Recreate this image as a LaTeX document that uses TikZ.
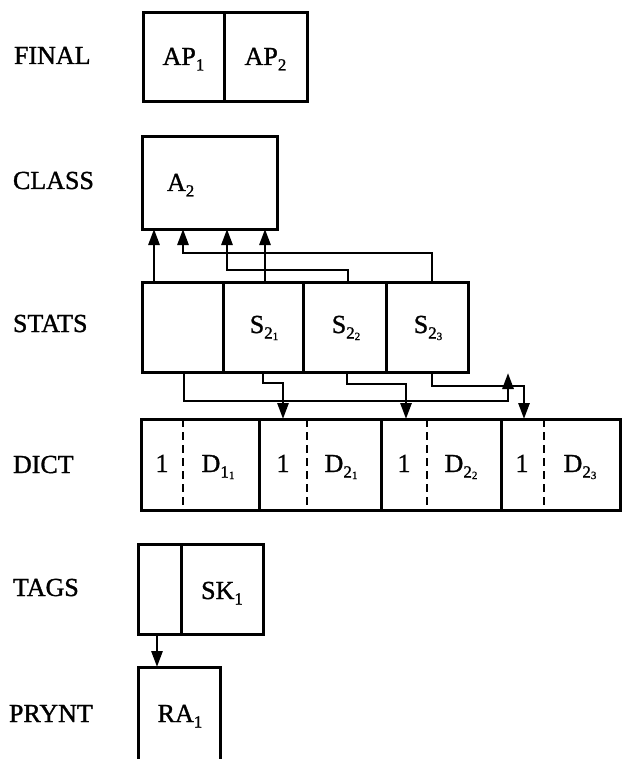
\documentclass[tikz,border=0pt]{standalone}
\usepackage{fontspec}
\setmainfont{Liberation Serif}
\newfontfamily\printface{Liberation Serif}[FakeBold=1.2]
\usetikzlibrary{arrows.meta,fit,calc}

% subscripts set in the text face: one level and a nested second level
\newcommand\sbs[1]{\raisebox{-5.5pt}{\fontsize{17}{17}\selectfont #1}}
\newcommand\sbss[1]{\raisebox{-1.5pt}{\fontsize{11}{11}\selectfont #1}}

\tikzset{
  txt/.style={inner sep=0pt, outer sep=0pt, font=\printface\fontsize{26}{31}\selectfont},
  rowlabel/.style={txt, anchor=base west},
  celltext/.style={txt, anchor=base},
  cell/.style={draw, line width=3pt, rectangle, inner sep=0pt, outer sep=0pt},
  link/.style={line width=2.8pt, line join=miter},
  ptr/.style={link, -{Triangle[length=16pt,width=11pt]}},
  divider/.style={line width=2.8pt, dash pattern=on 8pt off 5pt},
}

\begin{document}
\begin{tikzpicture}[x=1pt,y=-1pt]
\useasboundingbox (0,0) rectangle (622,759);
\clip (0,0) rectangle (622,759);

% row names
\node[rowlabel] (lfinal) at (14,64)  {FINAL};
\node[rowlabel] (lclass) at (13,189) {CLASS};
\node[rowlabel] (lstats) at (13,332) {STATS};
\node[rowlabel] (ldict)  at (13,473) {DICT};
\node[rowlabel] (ltags)  at (13,596) {TAGS};
\node[rowlabel] (lprynt) at (9,722) {PRYNT};

% FINAL
\node[cell, fit={(143,13) (224,102)}] (ap1) {};
\node[cell, fit={(224,13) (307,102)}] (ap2) {};
\node[celltext] (tap1) at (183.5,65) {AP\sbs{1}};
\node[celltext] (tap2) at (265.5,65) {AP\sbs{2}};

% CLASS
\node[cell, fit={(142,137) (277,229)}] (class) {};
\node[txt, anchor=base west] (ta2) at (167,191) {A\sbs{2}};

% STATS
\node[cell, fit={(142,282) (223,372)}] (s0) {};
\node[cell, fit={(223,282) (303,372)}] (s1) {};
\node[cell, fit={(303,282) (386,372)}] (s2) {};
\node[cell, fit={(386,282) (468,372)}] (s3) {};
\node[celltext] (ts1) at (264,333) {S\sbs{2\sbss{1}}};
\node[celltext] (ts2) at (346,333) {S\sbs{2\sbss{2}}};
\node[celltext] (ts3) at (428,333) {S\sbs{2\sbss{3}}};

% DICT
\node[cell, fit={(141,419) (259,510)}] (d1) {};
\node[cell, fit={(259,419) (381,510)}] (d2) {};
\node[cell, fit={(381,419) (501,510)}] (d3) {};
\node[cell, fit={(501,419) (620,510)}] (d4) {};
\draw[divider] ($(d1.north west)+(42,0)$) -- ($(d1.south west)+(42,0)$);
\draw[divider] ($(d2.north west)+(48,0)$) -- ($(d2.south west)+(48,0)$);
\draw[divider] ($(d3.north west)+(46,0)$) -- ($(d3.south west)+(46,0)$);
\draw[divider] ($(d4.north west)+(43,0)$) -- ($(d4.south west)+(43,0)$);
\node[celltext] (n1) at (162,472) {1};
\node[celltext] (n2) at (283,472) {1};
\node[celltext] (n3) at (404,472) {1};
\node[celltext] (n4) at (522,472) {1};
\node[celltext] (td1) at (218,472) {D\sbs{1\sbss{1}}};
\node[celltext] (td2) at (341,472) {D\sbs{2\sbss{1}}};
\node[celltext] (td3) at (461,472) {D\sbs{2\sbss{2}}};
\node[celltext] (td4) at (580,472) {D\sbs{2\sbss{3}}};

% TAGS
\node[cell, fit={(138,544) (181,634)}] (tg0) {};
\node[cell, fit={(181,544) (263,634)}] (tg1) {};
\node[celltext] (tsk) at (222,599) {SK\sbs{1}};

% PRYNT (runs off the lower edge)
\node[cell, fit={(138,667) (220,790)}] (prynt) {};
\node[celltext] (tra) at (180,722) {RA\sbs{1}};

% STATS -> CLASS
\draw[ptr] ($(s0.north west)+(12,0)$) -- ($(class.south west)+(12,0)$);
\draw[ptr] ($(s3.north west)+(46,0)$) -- ++(0,-29) -| ($(class.south west)+(41,0)$);
\draw[ptr] ($(s2.north west)+(45,0)$) -- ++(0,-12) -| ($(class.south west)+(85,0)$);
\draw[ptr] ($(s1.north west)+(42,0)$) -- ($(class.south west)+(123,0)$);

% STATS -> DICT
\coordinate (loopend) at (508,373);
\draw[ptr] ($(s0.south west)+(42,0)$) -- ++(0,29) -| (loopend);
\draw[ptr] ($(s1.south west)+(40,0)$) -- ++(0,11) -| ($(d2.north west)+(24,0)$);
\draw[ptr] ($(s2.south west)+(44,0)$) -- ++(0,12) -| ($(d3.north west)+(25,0)$);
\draw[ptr] ($(s3.south west)+(46,0)$) -- ++(0,14) -| ($(d4.north west)+(23,0)$);

% TAGS -> PRYNT
\draw[ptr] ($(tg0.south west)+(19,0)$) -- ($(prynt.north west)+(19,0)$);
\end{tikzpicture}
\end{document}
